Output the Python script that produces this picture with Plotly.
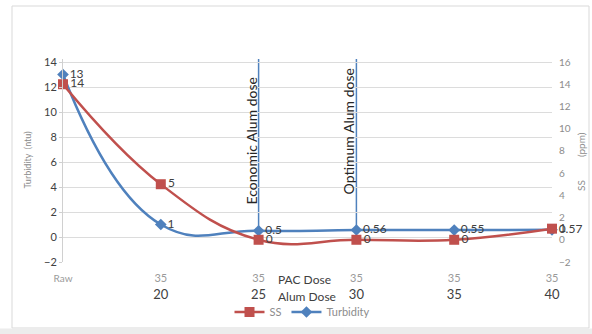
import plotly.graph_objects as go

# ---- data ----
categories = ["Raw", "20", "25", "30", "35", "40"]
pac_dose = ["", "35", "35", "35", "35", "35"]
alum_dose = ["", "20", "25", "30", "35", "40"]
turbidity = [13, 1, 0.5, 0.56, 0.55, 0.57]
turbidity_labels = ["13", "1", "0.5", "0.56", "0.55", "0.57"]
ss = [14, 5, 0, 0, 0, 1]
ss_labels = ["14", "5", "0", "0", "0", "1"]
markers = [("Economic Alum dose", 2), ("Optimum Alum dose", 3)]

RED = "#C0504D"
BLUE = "#4F81BD"
FONT = "Lato"

# pixel geometry helpers (plot area)
L, R, T, B = 63, 552, 59, 262
W, H = 592, 334
pw, ph = R - L, B - T
def px(x): return (x - L) / pw
def py(y): return (B - y) / ph

y1_top = 14 + 3 / 12.5
y2_top = 16 + (y1_top - 14) * 18 / 16

xs = list(range(len(categories)))

ticktext = []
for p, a, c in zip(pac_dose, alum_dose, categories):
    if p == "":
        ticktext.append(f"<span style='color:#9a9a9a;font-size:10px'>{c}</span><br> ")
    else:
        ticktext.append(f"<span style='color:#9a9a9a;font-size:11px'>{p}</span><br>"
                        f"<span style='color:#404040;font-size:13px'>{a}</span>")

fig = go.Figure()

fig.add_trace(go.Scatter(
    x=xs, y=ss, name="SS", yaxis="y2",
    mode="lines+markers+text", text=ss_labels, textposition="middle right",
    textfont=dict(family=FONT, size=12, color="#404040"),
    line=dict(color=RED, width=2.5, shape="spline", smoothing=1.2),
    marker=dict(symbol="square", size=10, color=RED),
    cliponaxis=False,
))
fig.add_trace(go.Scatter(
    x=xs, y=turbidity, name="Turbidity", yaxis="y",
    mode="lines+markers+text", text=turbidity_labels, textposition="middle right",
    textfont=dict(family=FONT, size=12, color="#404040"),
    line=dict(color=BLUE, width=2.5, shape="spline", smoothing=1.3),
    marker=dict(symbol="diamond", size=9, color=BLUE),
    cliponaxis=False,
))

label_centers = [141, 131]  # pixel centres of the rotated marker labels
shapes = []
annotations = []
for (label, idx), yc in zip(markers, label_centers):
    shapes.append(dict(type="line", xref="x", yref="y", x0=idx, x1=idx,
                       y0=turbidity[idx], y1=y1_top,
                       line=dict(color=BLUE, width=1.5), layer="below"))
    annotations.append(dict(text=label, xref="x", yref="paper", x=idx, y=py(yc),
                            xshift=-8, textangle=-90, showarrow=False,
                            xanchor="center", yanchor="middle",
                            font=dict(family=FONT, size=14, color="#262626")))

# chart frame
shapes.append(dict(type="rect", xref="paper", yref="paper",
                   x0=px(12), x1=px(589), y0=py(328), y1=py(6),
                   line=dict(color="#d9d9d9", width=1), layer="below"))
shapes.append(dict(type="rect", xref="paper", yref="paper",
                   x0=px(0), x1=px(592), y0=py(340), y1=py(328.5),
                   line=dict(width=0), fillcolor="#ececec", layer="below"))

annotations += [
    dict(text="PAC Dose", xref="x", yref="paper", x=2, y=py(279), xshift=17,
         xanchor="left", yanchor="middle", showarrow=False,
         font=dict(family=FONT, size=12, color="#404040")),
    dict(text="Alum Dose", xref="x", yref="paper", x=2, y=py(296), xshift=17,
         xanchor="left", yanchor="middle", showarrow=False,
         font=dict(family=FONT, size=12, color="#404040")),
    dict(text="Turbidity\u00a0\u00a0(ntu)", xref="paper", yref="paper", x=px(27), y=0.5,
         textangle=-90, showarrow=False, xanchor="center", yanchor="middle",
         font=dict(family=FONT, size=9, color="#8c8c8c")),
    dict(text="SS" + "\u00a0" * 9 + "(ppm)", xref="paper", yref="paper", x=px(581), y=py(162),
         textangle=-90, showarrow=False, xanchor="center", yanchor="middle",
         font=dict(family=FONT, size=10, color="#8c8c8c")),
]

fig.update_layout(
    width=W, height=H,
    margin=dict(l=L, r=W - R, t=T, b=H - B, autoexpand=False),
    paper_bgcolor="white", plot_bgcolor="white",
    font=dict(family=FONT, size=11, color="#404040"),
    showlegend=True,
    legend=dict(orientation="h", x=px(302), y=py(312), xanchor="center", yanchor="middle",
                font=dict(family=FONT, size=11, color="#8c8c8c"),
                traceorder="normal", itemwidth=30, bgcolor="rgba(0,0,0,0)"),
    xaxis=dict(range=[0, len(categories) - 1], tickvals=xs, ticktext=ticktext,
               showgrid=False, zeroline=False, showline=False, ticks="",
               tickfont=dict(family=FONT, size=13), ticklabelstandoff=6),
    yaxis=dict(range=[-2, y1_top], tickvals=list(range(-2, 15, 2)),
               showgrid=True, gridcolor="#dcdcdc", gridwidth=1, zeroline=False,
               showline=True, linecolor="#d0d0d0", ticks="outside", ticklen=3,
               tickcolor="#d0d0d0", tickfont=dict(family=FONT, size=11, color="#404040")),
    yaxis2=dict(range=[-2, y2_top], tickvals=list(range(-2, 17, 2)), overlaying="y",
                side="right", showgrid=False, zeroline=False, showline=False,
                tickfont=dict(family=FONT, size=10, color="#8c8c8c"), ticklabelstandoff=6),
    shapes=shapes, annotations=annotations,
)

fig.write_html("out.html")
